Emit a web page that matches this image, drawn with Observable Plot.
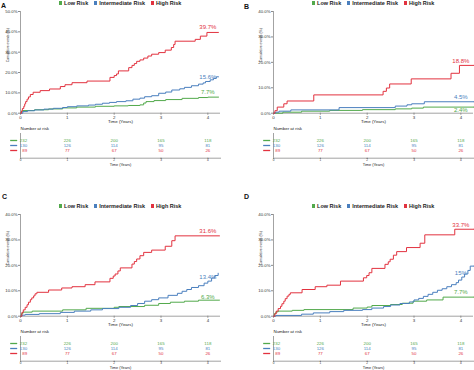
<!DOCTYPE html>
<html>
<head>
<meta charset="utf-8">
<script src="https://cdn.jsdelivr.net/npm/d3@7"></script>
<script src="https://cdn.jsdelivr.net/npm/@observablehq/plot@0.6"></script>
<style>
  html, body { margin: 0; padding: 0; background: #fff; }
  #root { position: relative; width: 474px; height: 370px; overflow: hidden; background: #fff;
          font-family: "Liberation Sans", Arial, sans-serif; }
  .panel { position: absolute; width: 222px; height: 175px; }
  .panel svg { position: absolute; left: 0; overflow: visible; }
  .legend { position: absolute; left: 20px; width: 200px; top: -0.5px; display: flex; justify-content: center;
            align-items: center; gap: 5.5px; font-size: 5.5px; font-weight: bold; color: #222; line-height: 6px; white-space: nowrap; }
  .legend span.sw { display: inline-block; width: 3.3px; height: 3.3px; margin-right: 2.2px; vertical-align: middle; }
  .letter { position: absolute; font-size: 7px; font-weight: bold; color: #111; line-height: 7px; }
</style>
</head>
<body>
<div id="root"></div>
<script>
// ---- data ----
const groups = ["Low Risk", "Intermediate Risk", "High Risk"];
const colors = ["#52a94b", "#4a7fbe", "#e2323f"];
const times = [0, 1, 2, 3, 4];
const riskLow = [232, 226, 200, 165, 118];
const riskInt = [130, 126, 114, 95, 81];
const riskHigh = [89, 77, 67, 50, 26];

// Panel A curves [time (years), cumulative events (%)]
const aLow = [[0,0],[0.02,0.9],[0.05,1.3],[0.3,1.7],[0.6,2.1],[0.9,2.6],[1.2,3.0],[1.6,3.4],[2.0,3.6],[2.3,3.8],[2.55,4.1],[2.63,5.0],[2.68,5.7],[2.85,6.2],[3.1,6.7],[3.45,7.3],[3.8,7.7],[4.0,7.9],[4.23,7.9]];
const aInt = [[0,0],[0.05,0.8],[0.15,1.2],[0.3,1.6],[0.5,2.0],[0.7,2.4],[0.9,2.8],[1.0,3.2],[1.2,3.6],[1.45,4.0],[1.6,4.4],[1.75,4.9],[1.9,5.3],[2.05,5.7],[2.25,6.1],[2.4,6.9],[2.55,7.4],[2.65,8.1],[2.8,8.6],[2.95,9.8],[3.1,10.4],[3.23,11.4],[3.4,12.0],[3.5,12.7],[3.65,13.5],[3.8,14.3],[3.9,14.9],[3.95,15.6],[4.05,16.4],[4.12,17.1],[4.18,17.9],[4.23,17.9]];
const aHigh = [[0,0],[0.02,1.1],[0.04,2.3],[0.07,3.4],[0.09,4.6],[0.11,5.7],[0.14,6.9],[0.17,8.0],[0.21,9.2],[0.27,10.3],[0.42,11.1],[0.62,11.9],[0.85,13.1],[0.95,14.0],[1.1,15.0],[1.42,15.8],[1.91,17.6],[2.0,18.5],[2.05,19.3],[2.09,20.8],[2.31,22.4],[2.38,23.5],[2.43,24.4],[2.48,25.5],[2.55,26.2],[2.63,27.1],[2.72,28.1],[2.8,29.0],[2.95,29.8],[3.09,31.0],[3.22,32.3],[3.27,33.8],[3.3,35.4],[3.73,36.3],[3.84,37.9],[3.98,39.7],[4.23,39.7]];

// Panel B
const bLow = [[0,0],[0.2,0.4],[0.6,0.8],[1.2,1.1],[1.9,1.4],[2.6,1.7],[2.95,2.0],[3.2,2.4],[4.28,2.4]];
const bInt = [[0,0],[0.04,0.4],[0.12,0.8],[0.37,1.3],[1.4,2.2],[2.6,2.8],[2.85,3.3],[2.95,3.7],[3.22,4.5],[4.28,4.5]];
const bHigh = [[0,0],[0.03,1.0],[0.08,2.4],[0.22,3.7],[0.29,4.8],[0.86,7.2],[2.34,8.6],[2.41,9.9],[2.48,11.5],[2.94,13.5],[3.79,15.7],[3.97,18.8],[4.28,18.8]];

// Panel C
const cLow = [[0,0],[0.02,1.0],[0.05,1.6],[0.25,2.0],[0.9,2.5],[1.4,3.1],[2.0,3.5],[2.1,3.8],[2.65,4.3],[2.95,5.0],[3.2,5.5],[3.5,5.9],[3.8,6.3],[4.25,6.3]];
const cInt = [[0,0],[0.03,0.4],[0.1,0.7],[0.4,1.0],[0.85,1.5],[1.15,2.0],[1.5,2.5],[1.75,3.0],[2.1,3.5],[2.35,4.2],[2.5,5.0],[2.65,5.9],[2.8,6.5],[2.95,7.2],[3.15,8.2],[3.35,9.0],[3.45,9.8],[3.55,10.5],[3.65,11.3],[3.8,12.0],[3.92,13.0],[4.0,13.8],[4.08,15.0],[4.15,16.0],[4.22,16.9]];
const cHigh = [[0,0],[0.03,1.5],[0.06,2.5],[0.1,3.5],[0.14,4.5],[0.17,5.5],[0.21,6.5],[0.24,7.2],[0.28,8.0],[0.31,8.8],[0.35,9.4],[0.6,10.3],[0.88,11.1],[1.1,11.6],[1.38,12.4],[1.59,13.5],[1.91,14.9],[1.98,15.8],[2.02,16.6],[2.08,17.8],[2.13,19.0],[2.38,20.5],[2.43,21.5],[2.48,22.5],[2.55,23.8],[2.63,25.1],[2.8,26.0],[3.09,27.5],[3.23,29.7],[3.3,31.6],[4.25,31.6]];

// Panel D
const dLow = [[0,0],[0.02,1.0],[0.05,1.7],[0.1,2.0],[0.4,2.3],[0.65,2.6],[1.7,3.2],[2.0,3.6],[2.1,4.2],[2.5,4.6],[2.75,5.1],[2.98,5.9],[3.27,6.4],[3.62,7.5],[4.28,7.5]];
const dInt = [[0,0],[0.05,0.3],[0.6,0.8],[0.85,1.3],[1.2,1.8],[1.5,2.3],[1.9,2.6],[2.1,3.2],[2.35,3.8],[2.5,4.4],[2.7,5.0],[2.9,5.6],[3.0,6.4],[3.1,7.0],[3.2,7.8],[3.3,8.6],[3.4,9.4],[3.5,10.2],[3.6,10.8],[3.7,11.6],[3.8,12.4],[3.9,13.2],[3.95,14.2],[4.02,15.4],[4.08,16.6],[4.15,18.0],[4.2,19.7],[4.28,19.7]];
const dHigh = [[0,0],[0.03,1.0],[0.06,2.0],[0.1,3.0],[0.15,3.9],[0.18,4.9],[0.22,5.9],[0.25,6.9],[0.29,7.9],[0.33,8.6],[0.36,9.2],[0.61,10.5],[0.89,11.6],[1.14,12.2],[1.43,13.8],[1.92,15.1],[1.99,16.0],[2.04,17.1],[2.1,18.8],[2.38,20.4],[2.45,21.4],[2.49,22.4],[2.56,24.0],[2.63,25.4],[2.84,27.0],[3.13,28.7],[3.23,32.0],[3.87,34.2],[4.28,34.2]];

// End labels
const aLabels = ["7.7%", "15.6%", "39.7%"];
const bLabels = ["2.4%", "4.5%", "18.8%"];
const cLabels = ["6.3%", "13.4%", "31.6%"];
const dLabels = ["7.7%", "15%", "33.7%"];

// ---- layout / style config ----
const panels = [
  {letter: "A", left: 0, top: 0, lx: 1, ly: 1.5, yMax: 50, curves: [aLow, aInt, aHigh], labels: aLabels, dys: [-5, -4, -5]},
  {letter: "B", left: 253, top: 0, lx: 244, ly: 2.5, yMax: 40, curves: [bLow, bInt, bHigh], labels: bLabels, dys: [2.8, -4.5, -4]},
  {letter: "C", left: 0, top: 203, lx: 2, ly: 192.5, yMax: 40, curves: [cLow, cInt, cHigh], labels: cLabels, dys: [-3.2, -4.6, -4.4]},
  {letter: "D", left: 253, top: 203, lx: 244, ly: 192.5, yMax: 40, curves: [dLow, dInt, dHigh], labels: dLabels, dys: [-4.6, -4.6, -5]}
];
const W = 222, ML = 20, MR = 2, XMAX = 4.27;
const font = "'Liberation Sans', Arial, sans-serif";
const axisGray = "#8c8c8c";

function mainPlot(p) {
  const rows = [];
  groups.forEach((g, i) => p.curves[i].forEach(([t, v]) => rows.push({t, v, g})));
  const labs = groups.map((g, i) => ({g, v: parseFloat(p.labels[i]), text: p.labels[i], dy: p.dys[i]}));
  const yTicks = d3.range(0, p.yMax + 1, 10);
  return Plot.plot({
    width: W, height: 125, marginLeft: ML, marginRight: MR, marginTop: 11, marginBottom: 12.3,
    style: {fontFamily: font, color: "#333", background: "transparent", overflow: "visible"},
    x: {domain: [0, XMAX], label: null},
    y: {domain: [0, p.yMax], label: null},
    color: {domain: groups, range: colors},
    marks: [
      Plot.axisX({ticks: times, tickSize: 2, tickPadding: 0.3, tickFormat: d => d, fontSize: 4.4, stroke: axisGray, label: null}),
      Plot.axisY({ticks: yTicks, tickSize: 2, tickPadding: 1, tickFormat: d => d.toFixed(1) + "%", fontSize: 4.3, stroke: axisGray, label: null}),
      Plot.ruleX([0], {stroke: axisGray, strokeWidth: 0.8}),
      Plot.ruleY([0], {stroke: axisGray, strokeWidth: 0.8}),
      Plot.text(["Time (Years)"], {frameAnchor: "bottom", lineAnchor: "middle", dy: 8.4, fontSize: 4.4, fill: "#222"}),
      Plot.text(["Cumulative events (%)"], {frameAnchor: "left", rotate: -90, dx: -12.5, fontSize: 3.4, fill: "#333"}),
      Plot.line(rows, {x: "t", y: "v", z: "g", stroke: "g", curve: "step-after", strokeWidth: 1}),
      ...labs.map(l => Plot.text([l], {x: () => 4, y: "v", text: "text", fill: "g", dy: l.dy, fontSize: 6}))
    ]
  });
}

function riskPlot() {
  const risk = [riskLow, riskInt, riskHigh];
  const rows = [];
  groups.forEach((g, i) => times.forEach((t, j) => rows.push({t, g, n: risk[i][j]})));
  return Plot.plot({
    width: W, height: 44, marginLeft: ML, marginRight: MR, marginTop: 9, marginBottom: 10.3,
    style: {fontFamily: font, color: "#333", background: "transparent", overflow: "visible"},
    x: {domain: [0, XMAX], label: null},
    y: {type: "point", domain: groups, range: [13, 28], axis: null},
    color: {domain: groups, range: colors},
    marks: [
      Plot.frame({anchor: "bottom", stroke: axisGray, strokeWidth: 0.8}),
      Plot.ruleX([0], {stroke: axisGray, strokeWidth: 0.8}),
      Plot.axisX({ticks: times, tickSize: 1, tickPadding: 0, tickFormat: d => d, fontSize: 3.1, stroke: axisGray, label: null}),
      Plot.text(["Time (Years)"], {frameAnchor: "bottom", lineAnchor: "middle", dy: 6.4, fontSize: 3.8, fill: "#222"}),
      Plot.text(["Number at risk"], {frameAnchor: "top-left", textAnchor: "start", lineAnchor: "middle", dy: -4.6, fontSize: 4.4, fill: "#222"}),
      Plot.ruleY(groups, {y: d => d, x1: -0.21, x2: -0.06, stroke: d => d, strokeWidth: 1.3}),
      Plot.text(rows.filter(d => d.t > 0), {x: "t", y: "g", text: "n", fill: "g", fontSize: 4.4}),
      Plot.text(rows.filter(d => d.t === 0), {x: "t", y: "g", text: "n", fill: "g", fontSize: 4.4, textAnchor: "end", dx: 6.6})
    ]
  });
}

const root = document.getElementById("root");
panels.forEach(p => {
  const div = document.createElement("div");
  div.className = "panel";
  div.style.left = p.left + "px";
  div.style.top = p.top + "px";
  const leg = document.createElement("div");
  leg.className = "legend";
  groups.forEach((g, i) => {
    const item = document.createElement("span");
    const sw = document.createElement("span");
    sw.className = "sw";
    sw.style.background = colors[i];
    item.appendChild(sw);
    item.appendChild(document.createTextNode(g));
    leg.appendChild(item);
  });
  const m = mainPlot(p);
  m.style.top = "0px";
  const r = riskPlot();
  r.style.top = "124px";
  div.appendChild(m);
  div.appendChild(r);
  div.appendChild(leg);
  root.appendChild(div);
  const L = document.createElement("div");
  L.className = "letter";
  L.textContent = p.letter;
  L.style.left = p.lx + "px";
  L.style.top = p.ly + "px";
  root.appendChild(L);
});
</script>
</body>
</html>
